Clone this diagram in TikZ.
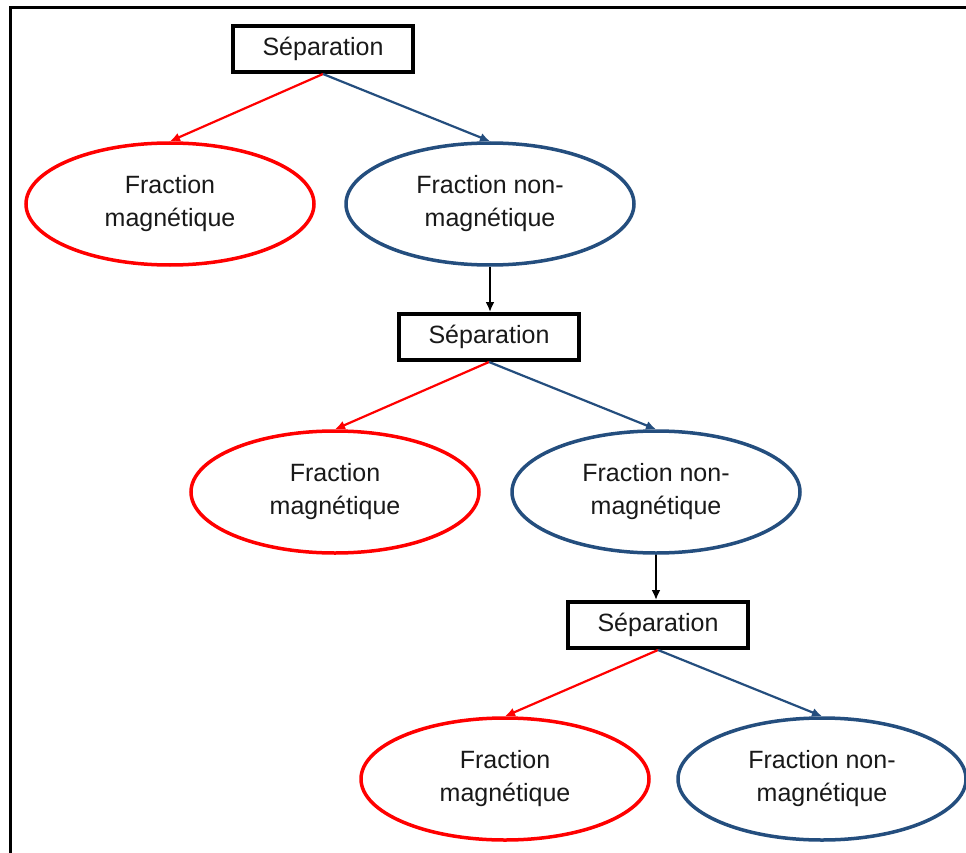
\documentclass[tikz,border=0pt]{standalone}
\usepackage{fontspec}
\setmainfont{Liberation Sans}
\usetikzlibrary{arrows.meta,shapes.geometric}
\definecolor{myred}{RGB}{255,0,0}
\definecolor{myblue}{RGB}{36,78,126}
\definecolor{mytext}{RGB}{25,25,25}
\begin{document}
\begin{tikzpicture}[x=1pt,y=-1pt,
  sepbox/.style={draw=black,line width=4pt,minimum width=180pt,minimum height=46pt,inner sep=0pt,text=mytext,font=\fontsize{25}{30}\selectfont},
  redell/.style={ellipse,draw=myred,line width=3.5pt,minimum width=288pt,minimum height=122pt,inner sep=0pt,align=center,text=mytext,font=\fontsize{25}{33}\selectfont},
  blueell/.style={ellipse,draw=myblue,line width=3.5pt,minimum width=288pt,minimum height=122pt,inner sep=0pt,align=center,text=mytext,font=\fontsize{25}{33}\selectfont},
  redarr/.style={draw=myred,line width=2.2pt,-{Latex[length=10pt,width=9pt]}},
  bluearr/.style={draw=myblue,line width=2.2pt,-{Latex[length=10pt,width=9pt]}},
  blackarr/.style={draw=black,line width=2.2pt,-{Latex[length=10pt,width=9pt]}}]
\useasboundingbox (0,0) rectangle (966,853);
\fill[white] (0,0) rectangle (966,853);
\draw[line width=3pt] (10,853) -- (10,8) -- (966,8);

\node[sepbox] (s1) at (323,49) {Séparation};
\node[redell] (r1) at (170,204) {Fraction\\magnétique};
\node[blueell] (b1) at (490,204) {Fraction non-\\magnétique};

\node[sepbox] (s2) at (489,337) {Séparation};
\node[redell] (r2) at (335,492) {Fraction\\magnétique};
\node[blueell] (b2) at (656,492) {Fraction non-\\magnétique};

\node[sepbox] (s3) at (658,625) {Séparation};
\node[redell] (r3) at (505,779) {Fraction\\magnétique};
\node[blueell] (b3) at (822,779) {Fraction non-\\magnétique};

\draw[redarr] (s1.south) -- (r1.north);
\draw[bluearr] (s1.south) -- (b1.north);
\draw[blackarr] (b1.south) -- (b1.south |- s2.north);
\draw[redarr] (s2.south) -- (r2.north);
\draw[bluearr] (s2.south) -- (b2.north);
\draw[blackarr] (b2.south) -- (b2.south |- s3.north);
\draw[redarr] (s3.south) -- (r3.north);
\draw[bluearr] (s3.south) -- (b3.north);
\end{tikzpicture}
\end{document}
